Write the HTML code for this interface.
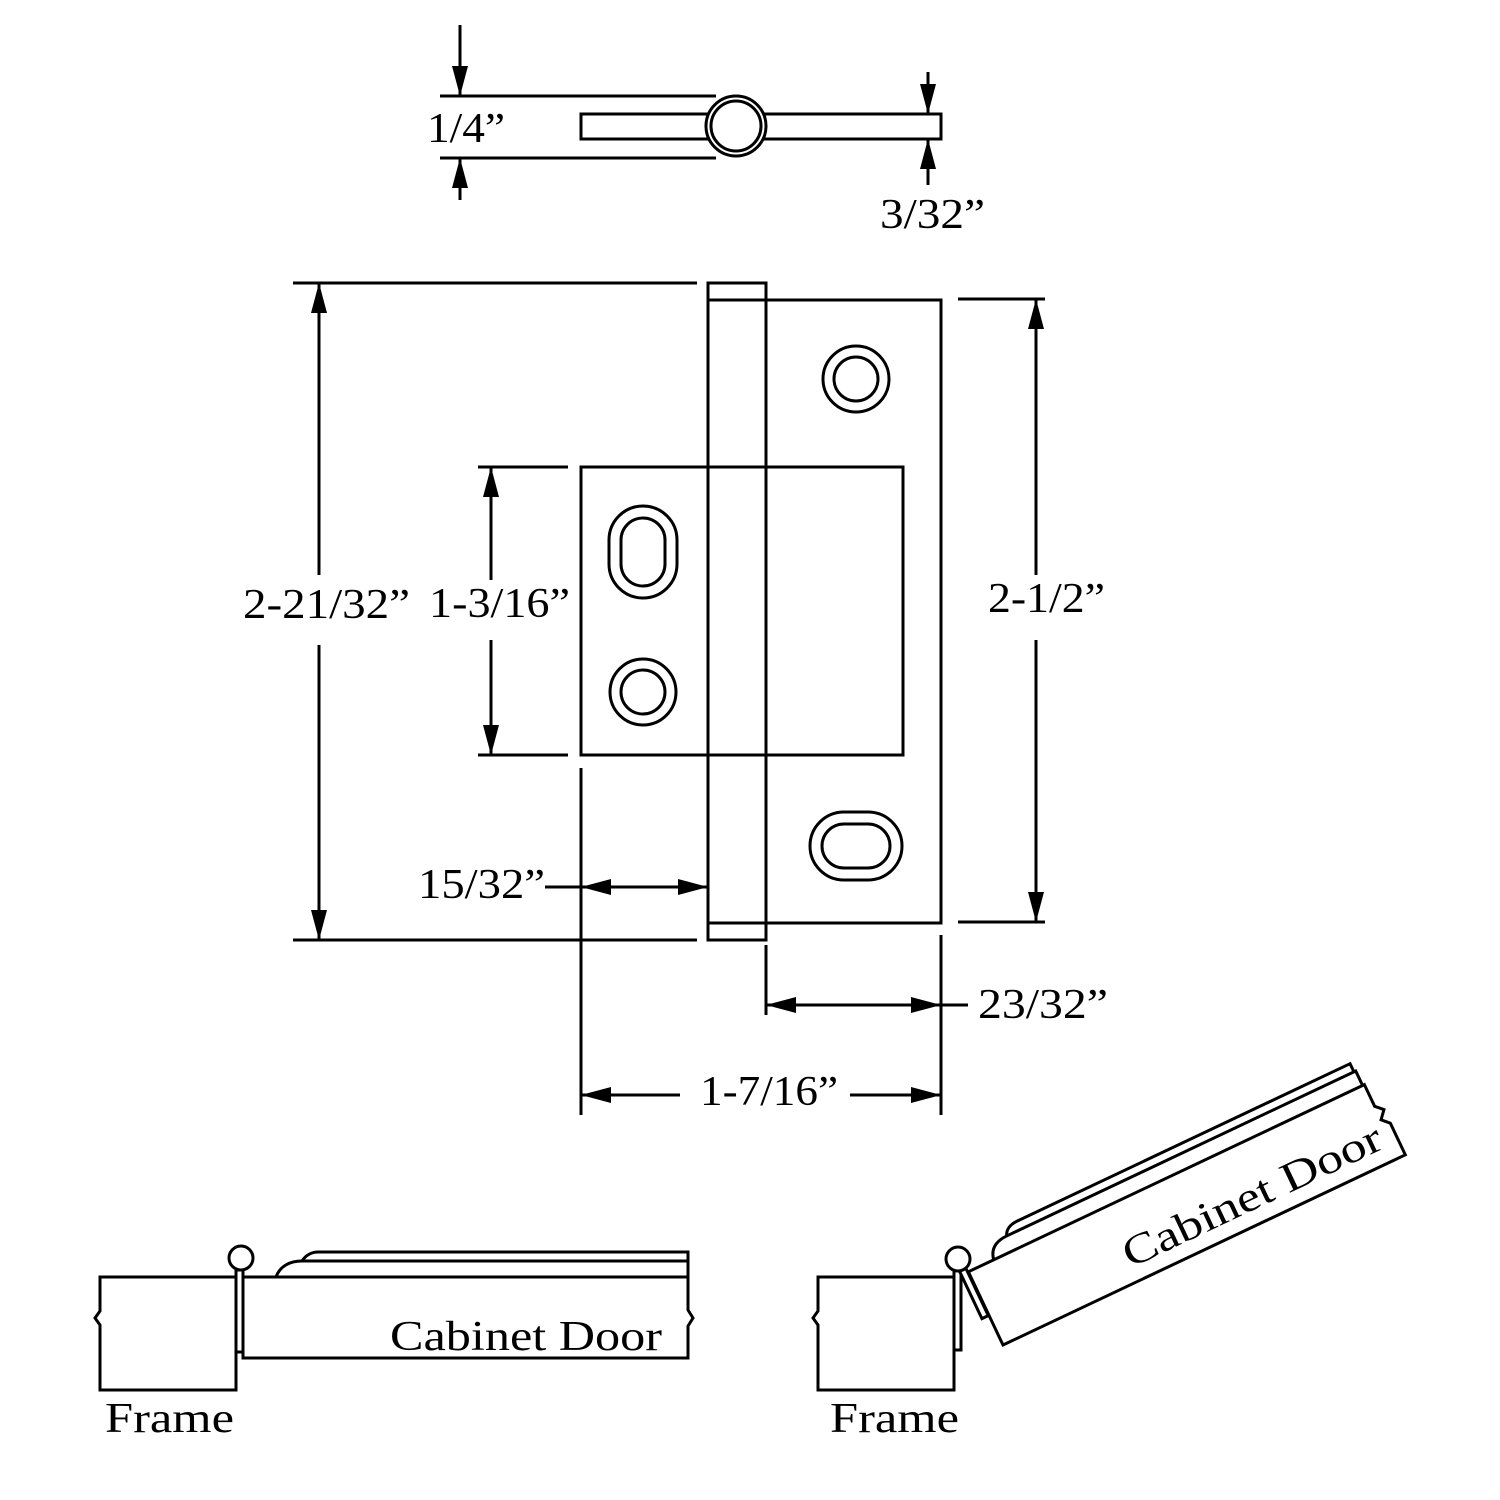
<!DOCTYPE html>
<html><head><meta charset="utf-8"><style>html,body{margin:0;padding:0;background:#fff}svg{display:block}</style></head><body>
<svg width="1500" height="1500" viewBox="0 0 1500 1500" xmlns="http://www.w3.org/2000/svg" font-family="Liberation Serif, serif" font-size="42">
<defs>
<marker id="b" viewBox="0 0 30 16" refX="30" refY="8" markerWidth="30" markerHeight="16" markerUnits="userSpaceOnUse" orient="auto-start-reverse"><path d="M0,0L30,8L0,16z" fill="#000"/></marker>
</defs>
<g fill="none" stroke="#000" stroke-width="3">
<line x1="440" y1="96" x2="716" y2="96"/><line x1="440" y1="158" x2="716" y2="158"/>
<rect x="581" y="114" width="360" height="25" fill="#fff"/>
<circle cx="736" cy="126" r="30" fill="#fff"/><circle cx="736" cy="126" r="25"/>
<line x1="460" y1="25" x2="460" y2="96" marker-end="url(#b)"/>
<line x1="460" y1="200" x2="460" y2="158" marker-end="url(#b)"/>
<line x1="928" y1="72" x2="928" y2="114" marker-end="url(#b)"/>
<line x1="928" y1="185" x2="928" y2="139" marker-end="url(#b)"/>
<rect x="766" y="300" width="175" height="623"/>
<rect x="708" y="283" width="58" height="657"/>
<line x1="708" y1="300" x2="766" y2="300"/><line x1="708" y1="923" x2="766" y2="923"/>
<rect x="581" y="467" width="322" height="288"/>
<circle cx="856" cy="379" r="33"/><circle cx="856" cy="379" r="22"/>
<circle cx="643" cy="692" r="33"/><circle cx="643" cy="692" r="22"/>
<rect x="609" y="506" width="68" height="92" rx="34"/><rect x="621" y="518" width="44" height="68" rx="22"/>
<rect x="810" y="812" width="92" height="68" rx="34"/><rect x="822" y="824" width="68" height="44" rx="22"/>
<line x1="293" y1="283" x2="697" y2="283"/><line x1="293" y1="940" x2="697" y2="940"/>
<line x1="319" y1="575" x2="319" y2="283" marker-end="url(#b)"/>
<line x1="319" y1="645" x2="319" y2="940" marker-end="url(#b)"/>
<line x1="478" y1="467" x2="568" y2="467"/><line x1="478" y1="755" x2="568" y2="755"/>
<line x1="491" y1="580" x2="491" y2="467" marker-end="url(#b)"/>
<line x1="491" y1="640" x2="491" y2="755" marker-end="url(#b)"/>
<line x1="958" y1="299" x2="1045" y2="299"/><line x1="958" y1="922" x2="1045" y2="922"/>
<line x1="1036" y1="575" x2="1036" y2="299" marker-end="url(#b)"/>
<line x1="1036" y1="640" x2="1036" y2="922" marker-end="url(#b)"/>
<line x1="581" y1="768" x2="581" y2="1115"/>
<line x1="545" y1="887" x2="581" y2="887"/>
<line x1="645" y1="887" x2="581" y2="887" marker-end="url(#b)"/>
<line x1="645" y1="887" x2="708" y2="887" marker-end="url(#b)"/>
<line x1="766" y1="945" x2="766" y2="1015"/><line x1="941" y1="935" x2="941" y2="1115"/>
<line x1="853" y1="1005" x2="766" y2="1005" marker-end="url(#b)"/>
<line x1="853" y1="1005" x2="941" y2="1005" marker-end="url(#b)"/>
<line x1="941" y1="1005" x2="968" y2="1005"/>
<line x1="680" y1="1095" x2="581" y2="1095" marker-end="url(#b)"/>
<line x1="850" y1="1095" x2="941" y2="1095" marker-end="url(#b)"/>
<path d="M100,1277H236V1390H100V1325L95,1318L100,1311Z"/>
<rect x="236" y="1270" width="7" height="82"/>
<circle cx="241" cy="1258" r="12" fill="#fff"/>
<path d="M243,1277H688V1310L693,1318L688,1326V1358H243Z"/>
<path d="M276,1277C280,1266 290,1261 302,1261H688V1277"/>
<path d="M302,1261C306,1255 312,1252 318,1252H688V1261"/>
<path d="M818,1277H954V1390H818V1325L813,1318L818,1311Z"/>
<rect x="954" y="1270" width="7" height="80"/>
<g transform="translate(1003,1345) rotate(-25.3)">
<path d="M0,0H445V-35L438,-42L445,-50L438,-57V-81H0Z"/>
<path d="M28,-81C30,-92 38,-97 50,-97H436V-81"/>
<path d="M50,-97C52,-103 58,-106 66,-106H434V-97"/>
</g>
<g transform="translate(958,1268) rotate(-25.3)"><rect x="0" y="0" width="7" height="56" fill="#fff"/></g>
<circle cx="958" cy="1259" r="12" fill="#fff"/>
</g>
<g fill="#000" lengthAdjust="spacingAndGlyphs">
<text x="427" y="142" textLength="78" lengthAdjust="spacingAndGlyphs">1/4”</text>
<text x="880" y="228" textLength="105" lengthAdjust="spacingAndGlyphs">3/32”</text>
<text x="243" y="618" textLength="167" lengthAdjust="spacingAndGlyphs">2-21/32”</text>
<text x="429" y="617" textLength="141" lengthAdjust="spacingAndGlyphs">1-3/16”</text>
<text x="988" y="612" textLength="117" lengthAdjust="spacingAndGlyphs">2-1/2”</text>
<text x="418" y="898" textLength="127" lengthAdjust="spacingAndGlyphs">15/32”</text>
<text x="978" y="1018" textLength="130" lengthAdjust="spacingAndGlyphs">23/32”</text>
<text x="700" y="1105" textLength="138" lengthAdjust="spacingAndGlyphs">1-7/16”</text>
<text x="390" y="1350" textLength="272" lengthAdjust="spacingAndGlyphs">Cabinet Door</text>
<text x="105" y="1432" textLength="129" lengthAdjust="spacingAndGlyphs">Frame</text>
<text x="830" y="1432" textLength="129" lengthAdjust="spacingAndGlyphs">Frame</text>
<text transform="translate(1003,1345) rotate(-25.3)" x="148" y="-15" textLength="282" lengthAdjust="spacingAndGlyphs">Cabinet Door</text>
</g>
</svg>
</body></html>
